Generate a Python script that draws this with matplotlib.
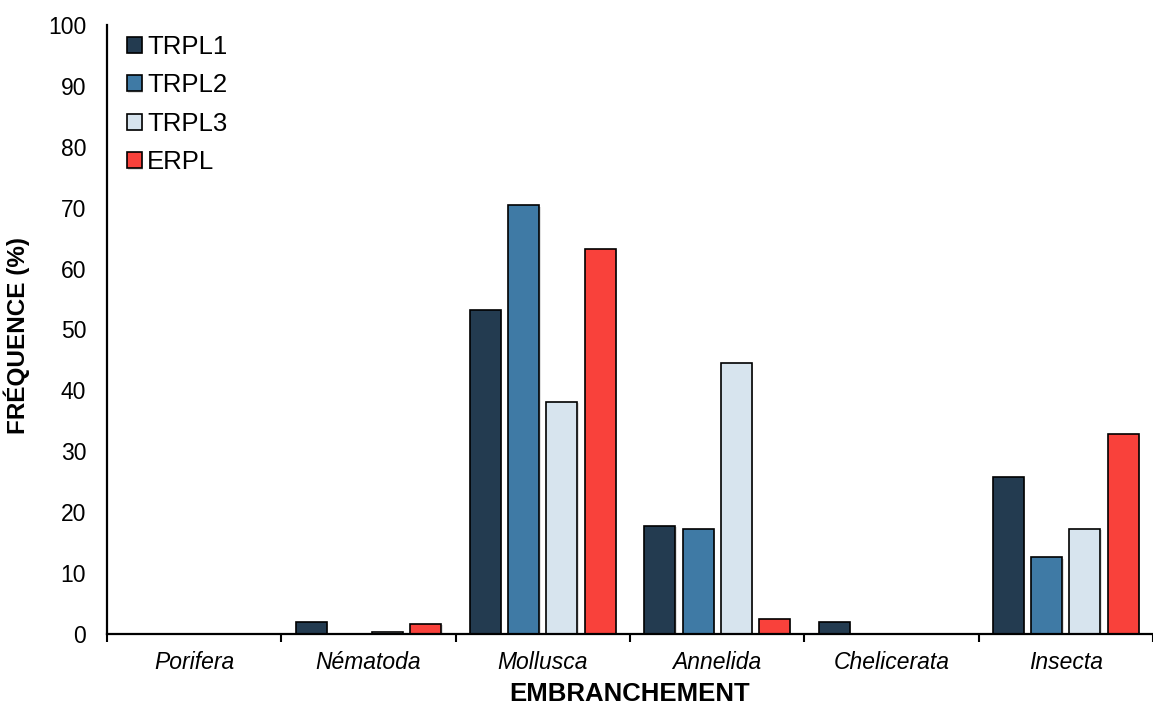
import numpy as np
import matplotlib.pyplot as plt
import matplotlib.patheffects as pe

plt.rcParams['font.family'] = ['Liberation Sans', 'DejaVu Sans']

# Fréquence (%) par embranchement et par station
embranchements = ['Porifera', 'Nématoda', 'Mollusca', 'Annelida', 'Chelicerata', 'Insecta']
trpl1 = [0, 1.9, 53.2, 17.8, 1.9, 25.7]
trpl2 = [0, 0, 70.4, 17.2, 0, 12.6]
trpl3 = [0, 0.4, 38.1, 44.5, 0, 17.3]
erpl = [0, 1.7, 63.3, 2.5, 0, 32.8]

series = [('TRPL1', trpl1, '#233b50'),
          ('TRPL2', trpl2, '#3f7aa5'),
          ('TRPL3', trpl3, '#d7e4ee'),
          ('ERPL', erpl, '#f9413b')]

fig = plt.figure(figsize=(11.53, 7.07), dpi=100)
ax = fig.add_axes([0.0928, 0.1033, 0.9072, 0.8613])

x = np.arange(len(embranchements))
step = 0.219
width = 0.177
shadow = [pe.SimplePatchShadow(offset=(1, -1), shadow_rgbFace='gray', alpha=0.25), pe.Normal()]

for i, (name, vals, col) in enumerate(series):
    ax.bar(x + (i - 1.5) * step, vals, width, color=col, edgecolor='black',
           linewidth=1.2, label=name, path_effects=shadow, zorder=2)

ax.set_xlim(-0.5, len(embranchements) - 0.5)
ax.set_ylim(0, 100)
ax.set_yticks(np.arange(0, 101, 10))
ax.tick_params(axis='y', length=0, pad=15, labelsize=16.5)

# traits aux limites des catégories, noms au centre
ax.set_xticks(np.arange(-0.5, len(embranchements), 1))
ax.set_xticklabels([])
ax.tick_params(axis='x', which='major', direction='out', length=6, width=1.5)
ax.set_xticks(x, minor=True)
ax.set_xticklabels(embranchements, minor=True, fontstyle='italic', fontsize=16.5)
ax.tick_params(axis='x', which='minor', length=0, pad=12)

for s in ['top', 'right']:
    ax.spines[s].set_visible(False)
for s in ['left', 'bottom']:
    ax.spines[s].set_linewidth(1.6)
    ax.spines[s].set_zorder(3)

ax.set_xlabel('EMBRANCHEMENT', fontsize=18.5, fontweight='bold', labelpad=6)
ax.set_ylabel('FRÉQUENCE (%)', fontsize=17.5, fontweight='bold', labelpad=6)
ax.yaxis.set_label_coords(-0.074, 0.49)

ax.legend(loc='upper left', bbox_to_anchor=(0.004, 1.009), frameon=False, fontsize=18.5,
          handlelength=0.6, handleheight=0.6, handletextpad=0.2, labelspacing=0.56,
          borderaxespad=0.2)

fig.savefig('out.png', dpi=100)
